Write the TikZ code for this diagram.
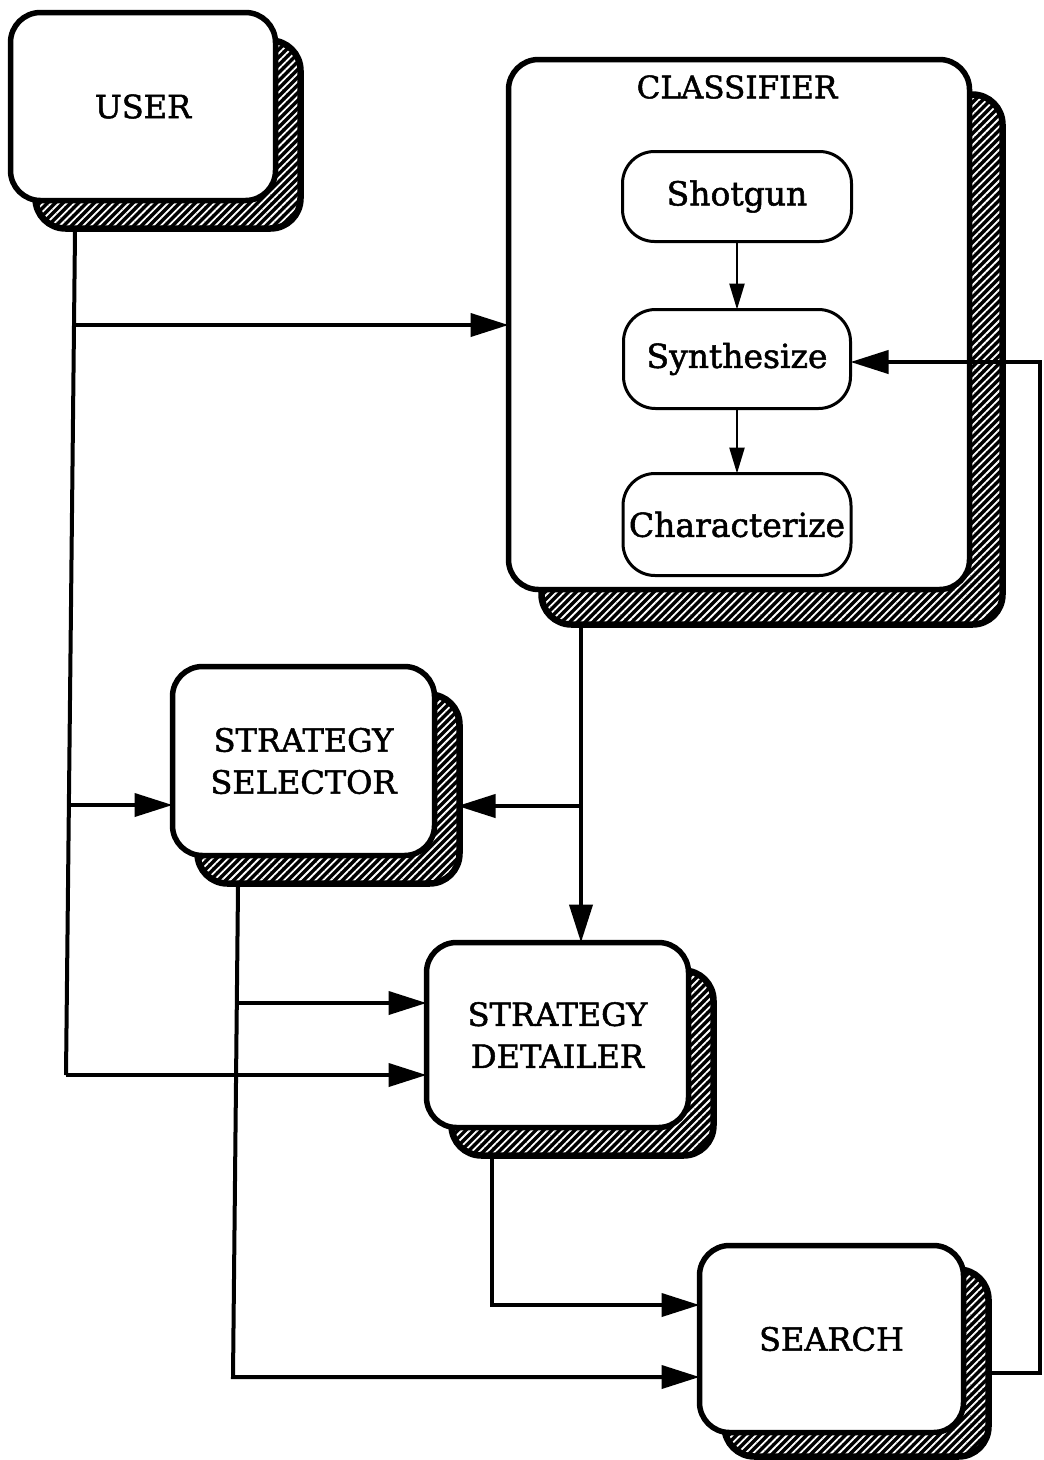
\documentclass[tikz,border=0pt]{standalone}
\usepackage{fontspec}
\setmainfont{DejaVu Serif}
\newfontfamily\labelfont{DejaVu Serif}[FakeBold=1.6]
\usetikzlibrary{arrows.meta,patterns.meta,calc}
\pgfdeclarelayer{bg}
\pgfsetlayers{bg,main}
\begin{document}
\begin{tikzpicture}[x=1pt,y=-1pt,
  bigbox/.style={draw, line width=5.5pt, rounded corners=30pt, fill=white, align=center,
    font=\labelfont\fontsize{32}{42}\selectfont, inner sep=0pt, outer sep=0pt},
  smallbox/.style={draw, line width=3pt, rounded corners=32pt, fill=white,
    font=\labelfont\fontsize{33}{36}\selectfont, inner sep=0pt, outer sep=0pt},
  hatch/.style={preaction={fill=black}, pattern={Lines[angle=45,distance=5.5pt,line width=1.8pt]},
    pattern color=white, draw=black, line width=6.5pt, rounded corners=30pt},
  conn/.style={line width=4pt},
  arr/.style={conn, -{Triangle[length=38pt,width=23pt]}},
  sarr/.style={line width=2.5pt, -{Triangle[length=26pt,width=15pt]}}
]
\useasboundingbox (0,0) rectangle (1044,1460);

% boxes
\node[bigbox, minimum width=265pt, minimum height=188pt] (user) at (143,106.5) {USER};
\node[bigbox, minimum width=461pt, minimum height=530pt] (cls) at (739,324.5) {};
\node[font=\labelfont\fontsize{31}{34}\selectfont] (clslbl) at (737,87) {CLASSIFIER};
\node[smallbox, minimum width=229pt, minimum height=90pt] (shot) at (737,196.5) {Shotgun};
\node[smallbox, minimum width=227pt, minimum height=99pt] (syn) at (737,359) {Synthesize};
\node[smallbox, minimum width=228pt, minimum height=102pt] (char) at (737,524.5) {Characterize};
\node[bigbox, minimum width=262pt, minimum height=189pt] (sel) at (303.5,761) {STRATEGY\\SELECTOR};
\node[bigbox, minimum width=262pt, minimum height=185pt] (det) at (557.5,1035) {STRATEGY\\DETAILER};
\node[bigbox, minimum width=264pt, minimum height=187pt] (srch) at (831.5,1339) {SEARCH};

% shadows
\begin{pgfonlayer}{bg}
\fill[white] (0,0) rectangle (1044,1460);
\foreach \n/\dx/\dy in {user/25/28, cls/33/35, sel/25/28, det/25/28, srch/25/24}
  \path[hatch] ([shift={(\dx,\dy)}]\n.north west) rectangle ([shift={(\dx,\dy)}]\n.south east);
\end{pgfonlayer}

% inner arrows
\draw[sarr] (shot.south) -- (syn.north);
\draw[sarr] (syn.south) -- (char.north);

% user trunk
\coordinate (ut) at (75,232);
\coordinate (ua) at (74,325);
\coordinate (um) at (69,805);
\coordinate (ub) at (66,1075);
\draw[conn] (ut) -- (ub);
\draw[arr] (ua) -- (cls.west |- ua);
\draw[arr] (um) -- (sel.west |- um);
\draw[arr] (ub) -- (det.west |- ub);

% classifier trunk
\coordinate (ct) at (581,628);
\coordinate (cb) at (581,806);
\draw[arr] (ct) -- (det.north -| ct);
\draw[arr] (cb) -- ($(sel.east |- cb)+(23,0)$);

% selector trunk
\coordinate (st) at (238,887);
\coordinate (sm) at (237,1003);
\coordinate (sb) at (233,1377);
\draw[arr] (st) -- (sb) -- (srch.west |- sb);
\draw[arr] (sm) -- (det.west |- sm);

% detailer trunk
\coordinate (dt) at (492,1158);
\coordinate (dc) at (492,1305);
\draw[arr] (dt) -- (dc) -- (srch.west |- dc);

% search return
\coordinate (r1) at (1040,1373);
\coordinate (r2) at (1040,362);
\draw[arr] ($(srch.east |- r1)+(27,0)$) -- (r1) -- (r2) -- (syn.east |- r2);
\end{tikzpicture}
\end{document}
